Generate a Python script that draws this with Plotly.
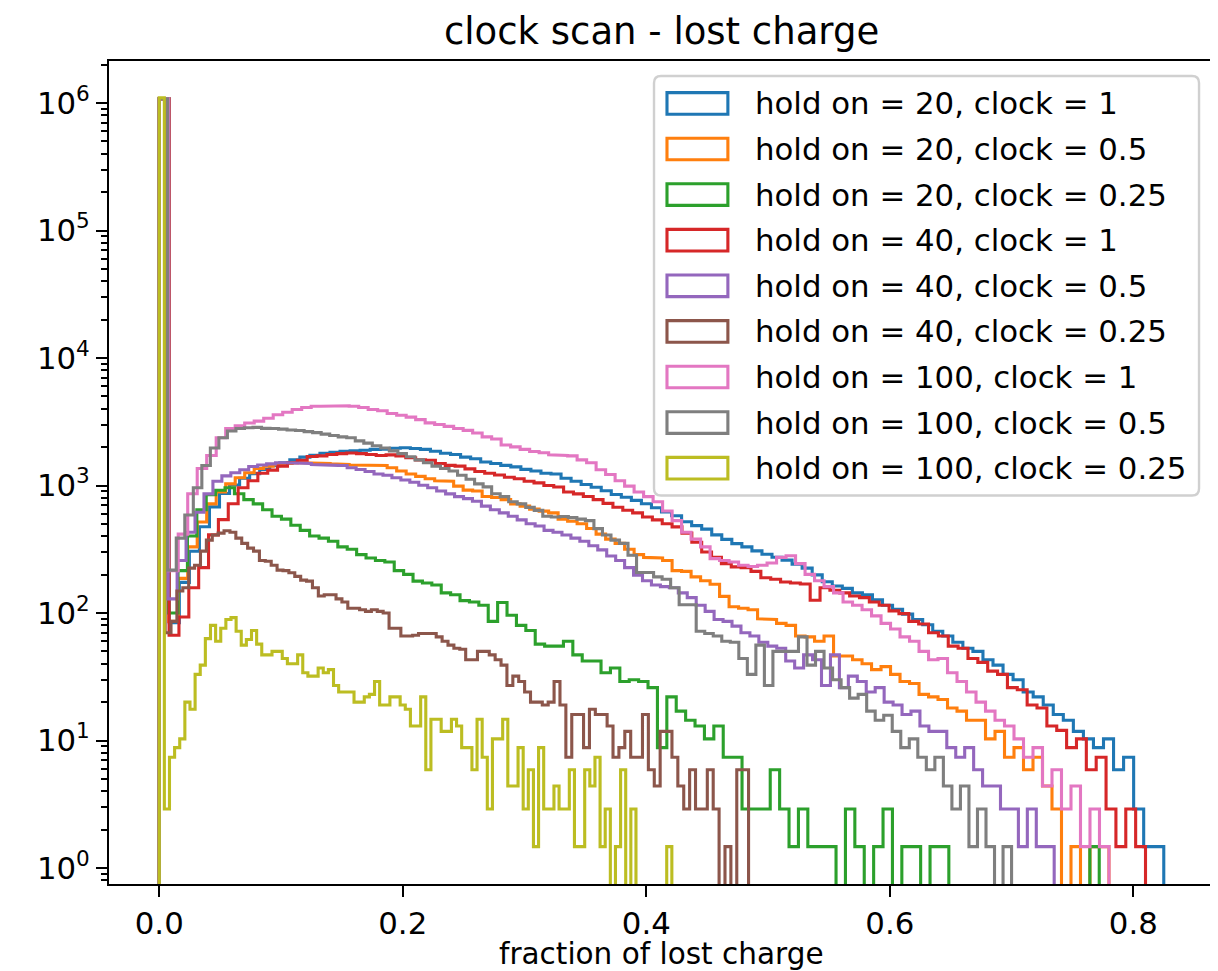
import numpy as np
import plotly.graph_objects as go

# ---------------- data (histogram heights per bin, 100 bins per series from 0 to x_max) ----------------
labels = [
    "hold on = 20, clock = 1",
    "hold on = 20, clock = 0.5",
    "hold on = 20, clock = 0.25",
    "hold on = 40, clock = 1",
    "hold on = 40, clock = 0.5",
    "hold on = 40, clock = 0.25",
    "hold on = 100, clock = 1",
    "hold on = 100, clock = 0.5",
    "hold on = 100, clock = 0.25",
]
colors = ["#1f77b4", "#ff7f0e", "#2ca02c", "#d62728", "#9467bd",
          "#8c564b", "#e377c2", "#7f7f7f", "#bcbd22"]
x_max = [0.825, 0.78, 0.772, 0.81, 0.735, 0.484, 0.78, 0.70, 0.421]

h20_c1 = [1080000, 84, 174, 305, 475, 680, 865, 1010, 1140, 1240,
          1340, 1430, 1510, 1590, 1670, 1730, 1790, 1820, 1860, 1870,
          1890, 1920, 1930, 1960, 1980, 1950, 1920, 1860, 1790, 1750,
          1670, 1620, 1530, 1490, 1440, 1400, 1340, 1300, 1250, 1230,
          1140, 1080, 1020, 970, 910, 850, 810, 765, 720, 670,
          620, 580, 520, 485, 455, 410, 378, 350, 330, 307,
          289, 274, 260, 242, 225, 199, 176, 163, 156, 144,
          139, 127, 115, 107, 98, 89, 81, 72, 66, 59,
          53, 50, 43, 39, 33, 30, 24, 22, 19, 16,
          14.4, 11.8, 10.3, 8.8, 10.3, 5.9, 7.4, 2.9, 1.47, 1.47]
h20_c05 = [1080000, 86, 187, 330, 517, 718, 890, 1030, 1150, 1260,
           1360, 1420, 1460, 1490, 1510, 1510, 1500, 1490, 1480, 1460,
           1450, 1450, 1435, 1435, 1380, 1300, 1230, 1180, 1130, 1090,
           1080, 990, 920, 905, 820, 805, 775, 718, 690, 653,
           630, 610, 545, 524, 502, 460, 416, 380, 352, 316,
           287, 273, 270, 258, 215, 212, 192, 179, 168, 135,
           112, 109, 106, 90, 89, 83, 80, 66, 65, 60,
           66, 46, 46, 43, 40, 36, 38, 33, 29, 28,
           23, 22, 21, 18, 17, 14.4, 14.4, 10.3, 11.8, 7.4,
           8.8, 5.9, 7.4, 4.4, 2.9, 0, 1.47, 0, 1.47, 1.47]
h20_c025 = [1080000, 100, 215, 402, 646, 847, 918, 961, 861, 775,
            718, 646, 574, 545, 488, 445, 402, 387, 366, 330,
            316, 287, 270, 258, 251, 215, 201, 178, 172, 166,
            144, 139, 125, 122, 115, 86, 121, 96, 80, 73,
            57, 55, 55, 60, 47, 42, 42, 34, 37, 29,
            30, 29, 26, 8.8, 22, 17, 14.4, 13, 10.3, 13,
            7.4, 7.4, 2.9, 2.9, 2.9, 5.9, 2.9, 1.47, 2.9, 1.47,
            1.47, 1.47, 0, 2.9, 1.47, 0, 1.47, 2.9, 0, 1.47,
            1.47, 0, 1.47, 1.47, 0, 0, 0, 0, 0, 0,
            0, 0, 0, 0, 0, 0, 0, 0, 0, 1.47]
h40_c1 = [1080000, 67, 93, 158, 227, 410, 540, 720, 960, 1090,
          1250, 1320, 1420, 1510, 1580, 1690, 1710, 1750, 1780, 1800,
          1780, 1750, 1720, 1740, 1710, 1650, 1590, 1580, 1490, 1440,
          1420, 1350, 1290, 1250, 1210, 1160, 1130, 1080, 1050, 1000,
          975, 890, 860, 820, 775, 725, 675, 640, 610, 567,
          538, 502, 474, 423, 359, 301, 273, 244, 230, 227,
          212, 189, 184, 175, 172, 169, 126, 158, 151, 144,
          136, 132, 122, 115, 104, 99, 86, 82, 70, 66,
          55, 53, 44, 41, 35, 33, 26, 25, 19, 18,
          13, 12, 8.8, 10.3, 5.9, 7.4, 2.9, 1.47, 2.9, 1.47]
h40_c05 = [1080000, 129, 258, 430, 617, 860, 1080, 1190, 1260, 1330,
           1410, 1450, 1480, 1510, 1510, 1500, 1490, 1460, 1450, 1440,
           1435, 1380, 1335, 1290, 1230, 1205, 1150, 1105, 1060, 1005,
           960, 905, 860, 818, 790, 753, 690, 646, 610, 574,
           538, 502, 481, 445, 430, 409, 387, 366, 337, 313,
           280, 258, 227, 198, 179, 166, 161, 158, 144, 132,
           115, 103, 89, 86, 79, 70, 66, 59, 55, 53,
           42, 37, 47, 43, 27, 47, 26, 32, 29, 24,
           26, 20, 19, 16, 17, 13, 11.8, 11.8, 8.8, 7.4,
           8.8, 5.9, 4.4, 4.4, 2.9, 2.9, 1.47, 2.9, 1.47, 1.47]
h40_c025 = [1080000, 70, 86, 149, 158, 225, 237, 306, 373, 409,
            423, 442, 430, 387, 352, 323, 306, 258, 255, 237,
            217, 215, 207, 194, 181, 178, 158, 136, 139, 139,
            129, 122, 109, 109, 106, 103, 106, 103, 100, 76,
            76, 66, 66, 67, 69, 69, 69, 65, 60, 56,
            53, 52, 43, 43, 50, 50, 47, 43, 39, 27,
            32, 29, 24, 20, 20, 19, 20, 29, 19, 7.4,
            16, 16, 8.8, 17.6, 16, 16, 13, 7.4, 8.8, 11.8,
            7.4, 7.4, 16, 5.9, 4.4, 11.8, 11.8, 7.4, 4.4, 2.9,
            5.9, 2.9, 2.9, 5.9, 2.9, 0, 1.47, 0, 5.9, 5.9]
h100_c1 = [1080000, 215, 416, 861, 1360, 1720, 2370, 2800, 2940, 3090,
           3200, 3370, 3590, 3760, 3950, 4090, 4190, 4200, 4230, 4220,
           4190, 4090, 3950, 3860, 3670, 3560, 3440, 3290, 3100, 3010,
           2910, 2800, 2710, 2580, 2410, 2320, 2080, 2010, 1920, 1850,
           1810, 1740, 1720, 1710, 1590, 1510, 1330, 1220, 1090, 990,
           890, 818, 746, 631, 531, 430, 380, 330, 267, 258,
           251, 237, 232, 237, 247, 273, 281, 244, 201, 179,
           161, 144, 122, 115, 106, 95, 83, 75, 65, 60,
           50, 43, 44, 34, 29, 24, 20, 17, 14.4, 13,
           10.3, 7.4, 8.8, 4.4, 5.9, 2.9, 4.4, 1.47, 2.9, 1.47]
h100_c05 = [1080000, 217, 387, 588, 961, 1435, 1970, 2370, 2680, 2800,
            2840, 2860, 2810, 2800, 2770, 2730, 2700, 2650, 2600, 2530,
            2470, 2410, 2370, 2240, 2150, 2050, 1970, 1870, 1780, 1680,
            1590, 1510, 1420, 1360, 1300, 1205, 1120, 1030, 976, 861,
            818, 746, 718, 674, 639, 574, 567, 571, 560, 545,
            531, 459, 409, 373, 352, 284, 208, 208, 192, 184,
            158, 116, 116, 72, 69, 66, 60, 59, 44, 33,
            56, 27, 50, 50, 50, 65, 39, 50, 37, 30,
            26, 21.5, 23, 17, 14.4, 15.8, 11.8, 8.8, 10.3, 7.4,
            5.9, 7.4, 4.4, 2.9, 4.4, 1.47, 2.9, 1.47, 0, 1.47]
h100_c025 = [1100000, 2.9, 7.4, 8.8, 10.3, 20, 17.6, 33, 39, 63,
             80, 60, 76, 89, 92, 72, 56, 62, 73, 57,
             47, 47, 50, 50, 44, 40, 40, 47, 34, 32,
             32, 37, 34, 36, 27, 24, 24, 24, 20, 20,
             22, 23, 29, 19, 19, 22, 22, 19, 17.6, 13,
             13, 22, 5.9, 14.7, 14.7, 11.8, 11.8, 14.7, 13, 8.8,
             8.8, 5.9, 14.7, 7.4, 2.9, 10.3, 10.3, 14.7, 4.4, 4.4,
             8.8, 2.9, 5.9, 1.47, 8.8, 2.9, 2.9, 4.4, 2.9, 2.9,
             5.9, 1.47, 1.47, 5.9, 4.4, 7.4, 1.47, 2.9, 0, 1.47,
             5.9, 0, 2.9, 0, 0, 0, 0, 0, 0, 1.47]

series = [h20_c1, h20_c05, h20_c025, h40_c1, h40_c05, h40_c025,
          h100_c1, h100_c05, h100_c025]

x_ticks = [0.0, 0.2, 0.4, 0.6, 0.8]
x_tick_text = ["0.0", "0.2", "0.4", "0.6", "0.8"]
y_ticks = [1, 10, 100, 1000, 10000, 100000, 1000000]
y_tick_text = ["10<sup>%d</sup>" % i for i in range(7)]

# ---------------- figure ----------------
W, H = 1218, 971
L, R, T, B = 101, 1208, 53, 876
FONT = "DejaVu Sans"
FS = 30.8
FLOOR = 1e-3  # empty bins drop below the axis, like matplotlib's clipped steps

fig = go.Figure()
for lab, col, xm, cnt in zip(labels, colors, x_max, series):
    edges = np.linspace(0.0, xm, len(cnt) + 1)
    xs, ys = [edges[0]], [FLOOR]
    for i, c in enumerate(cnt):
        v = c if c > 0 else FLOOR
        xs += [edges[i], edges[i + 1]]
        ys += [v, v]
    xs.append(edges[-1])
    ys.append(FLOOR)
    fig.add_trace(go.Scatter(x=xs, y=ys, mode="lines", name=lab,
                             line=dict(color=col, width=3.1),
                             showlegend=False, hoverinfo="skip"))

def px(xp):
    return (xp - L) / (R - L)

def py(yp):
    return (B - yp) / (B - T)

def rounded_rect(x0, y0, x1, y1, r):
    # pixel coordinates (y down) -> SVG path in paper coordinates
    pts = [
        ("M", x0 + r, y0), ("L", x1 - r, y0), ("Q", x1, y0, x1, y0 + r),
        ("L", x1, y1 - r), ("Q", x1, y1, x1 - r, y1), ("L", x0 + r, y1),
        ("Q", x0, y1, x0, y1 - r), ("L", x0, y0 + r), ("Q", x0, y0, x0 + r, y0),
    ]
    parts = []
    for p in pts:
        cmd, coords = p[0], p[1:]
        xy = []
        for j in range(0, len(coords), 2):
            xy.append("%.5f,%.5f" % (px(coords[j]), py(coords[j + 1])))
        parts.append(cmd + " " + " ".join(xy))
    return " ".join(parts) + " Z"

shapes = []
annotations = []
# legend frame (rounded, like matplotlib's fancybox)
shapes.append(dict(type="path", xref="paper", yref="paper",
                   path=rounded_rect(647, 68, 1193, 487.5, 7),
                   line=dict(color="#d0d0d0", width=2.4),
                   fillcolor="rgba(255,255,255,0.8)", layer="above"))
for i, (lab, col) in enumerate(zip(labels, colors)):
    yc = 95.4 + 45.6 * i
    shapes.append(dict(type="rect", xref="paper", yref="paper",
                       x0=px(660), x1=px(721), y0=py(yc + 10.8), y1=py(yc - 10.8),
                       line=dict(color=col, width=3.1), fillcolor="rgba(0,0,0,0)",
                       layer="above"))
    annotations.append(dict(text=lab, xref="paper", yref="paper",
                            x=px(746), y=py(yc), xanchor="left", yanchor="middle",
                            showarrow=False, font=dict(family=FONT, size=FS, color="black")))

annotations.append(dict(text="clock scan - lost charge", xref="paper", yref="paper",
                        x=0.5, y=py(24), xanchor="center", yanchor="middle",
                        showarrow=False, font=dict(family=FONT, size=37, color="black")))
annotations.append(dict(text="fraction of lost charge", xref="paper", yref="paper",
                        x=0.5, y=py(946.5), xanchor="center", yanchor="middle",
                        borderpad=0,
                        showarrow=False, font=dict(family=FONT, size=29.5, color="black")))

fig.update_layout(
    width=W, height=H,
    margin=dict(l=L, r=W - R, t=T, b=H - B, pad=0),
    paper_bgcolor="white", plot_bgcolor="white",
    font=dict(family=FONT, size=FS, color="black"),
    shapes=shapes, annotations=annotations,
    showlegend=False,
    xaxis=dict(range=[-0.04125, 0.86625], tickvals=x_ticks, ticktext=x_tick_text,
               ticks="outside", ticklen=10.8, tickwidth=2.4, tickcolor="black",
               showline=True, mirror=True, linecolor="black", linewidth=2.4,
               showgrid=False, zeroline=False, tickfont=dict(size=FS)),
    yaxis=dict(type="log", range=[-0.1255, 6.33], tickvals=y_ticks, ticktext=y_tick_text,
               ticks="outside", ticklen=10.8, tickwidth=2.4, tickcolor="black",
               showline=True, mirror=True, linecolor="black", linewidth=2.4,
               showgrid=False, zeroline=False, tickfont=dict(size=FS),
               minor=dict(ticks="outside", ticklen=6.2, tickwidth=1.8, tickcolor="black",
                          dtick="D1", showgrid=False)),
)

fig.write_html("out.html")
